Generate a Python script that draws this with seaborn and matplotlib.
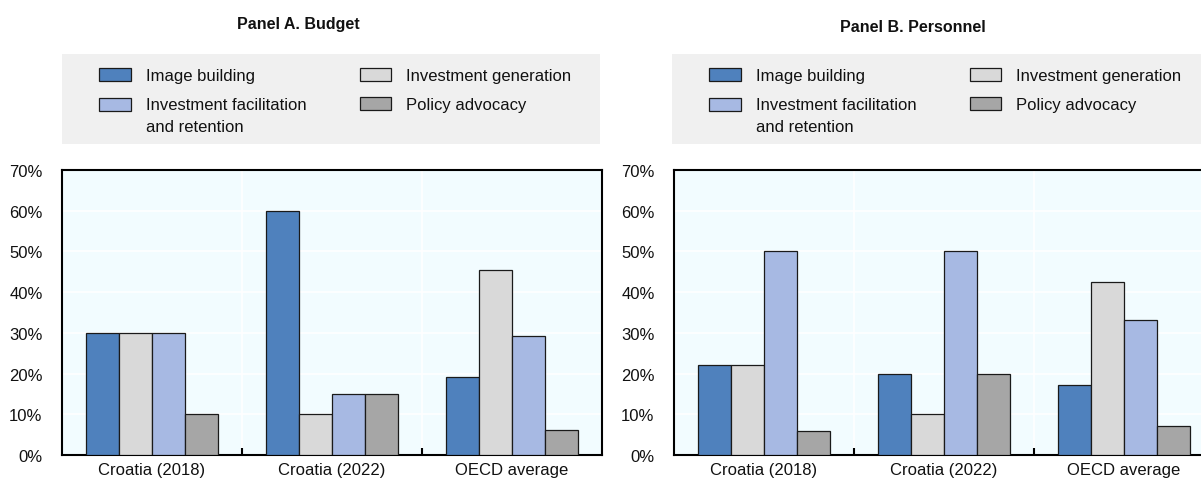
import matplotlib
matplotlib.use("Agg")
import matplotlib.pyplot as plt
import seaborn as sns
import pandas as pd
from matplotlib.patches import Rectangle, Patch
from matplotlib.legend_handler import HandlerPatch
from matplotlib.ticker import FuncFormatter, MultipleLocator, FixedLocator
from matplotlib import font_manager

categories = ["Croatia (2018)", "Croatia (2022)", "OECD average"]
series = ["Image building", "Investment generation",
          "Investment facilitation\nand retention", "Policy advocacy"]
colors = ["#4F81BD", "#D9D9D9", "#A7B9E3", "#A6A6A6"]

budget_image = [30, 60, 19.2]
budget_generation = [30, 10, 45.5]
budget_facilitation = [30, 15, 29.2]
budget_advocacy = [10, 15, 6.2]

personnel_image = [22, 20, 17.3]
personnel_generation = [22, 10, 42.4]
personnel_facilitation = [50, 50, 33.1]
personnel_advocacy = [6, 20, 7.2]

titles = ["Panel A. Budget", "Panel B. Personnel"]

sns.set_theme(style="white")
names = {f.name for f in font_manager.fontManager.ttflist}
fam = "Liberation Sans Narrow" if "Liberation Sans Narrow" in names else "Liberation Sans"
plt.rcParams["font.family"] = [fam, "DejaVu Sans"]

FS = 12
LS = 1.55


def long_df(vals):
    rows = []
    for s, v in zip(series, vals):
        for c, x in zip(categories, v):
            rows.append({"category": c, "series": s, "value": x})
    return pd.DataFrame(rows)


def top_aligned(legend, orig_handle, xdescent, ydescent, width, height, fontsize):
    dy = 0.43 * LS * fontsize
    return Rectangle((-xdescent, -ydescent + dy), width, height)


dfs = [long_df([budget_image, budget_generation, budget_facilitation, budget_advocacy]),
       long_df([personnel_image, personnel_generation, personnel_facilitation, personnel_advocacy])]

W, H = 1201, 481
fig = plt.figure(figsize=(W / 100, H / 100), dpi=100)

lefts = [62, 674]
axw = 540
top_px, bot_px = 171, 456
legend_boxes = [(62, 600), (672, 1215)]
title_x = [298, 913]
title_y = [25, 27]

for i in range(2):
    ax = fig.add_axes([lefts[i] / W, (H - bot_px) / H, axw / W, (bot_px - top_px) / H])
    ax.set_facecolor("#F2FCFF")
    sns.barplot(data=dfs[i], x="category", y="value", hue="series",
                order=categories, hue_order=series, palette=colors,
                width=0.73, edgecolor="#1a1a1a", linewidth=0.9,
                saturation=1, ax=ax, legend=False, zorder=3)
    ax.set_xlim(-0.5, 2.5)
    ax.set_ylim(0, 70)
    ax.yaxis.set_major_locator(MultipleLocator(10))
    ax.yaxis.set_major_formatter(FuncFormatter(lambda v, p: f"{int(round(v))}%"))
    ax.set_xlabel("")
    ax.set_ylabel("")
    ax.xaxis.set_minor_locator(FixedLocator([0.5, 1.5]))
    ax.grid(True, which="major", axis="y", color="white", linewidth=1.2, zorder=0)
    ax.grid(True, which="minor", axis="x", color="white", linewidth=1.2, zorder=0)
    ax.set_axisbelow(True)
    ax.tick_params(axis="y", length=0, pad=14, labelsize=12, labelcolor="#111111")
    ax.tick_params(axis="x", which="major", length=0, pad=5, labelsize=12, labelcolor="#111111")
    ax.tick_params(axis="x", which="minor", direction="in", length=5, width=1.5, color="black", bottom=True)
    for sp in ax.spines.values():
        sp.set_visible(True)
        sp.set_color("black")
        sp.set_linewidth(1.5)

    # legend background box
    x0, x1 = legend_boxes[i]
    fig.patches.append(Rectangle((x0 / W, (H - 145) / H), (x1 - x0) / W, 90 / H,
                                 transform=fig.transFigure, facecolor="#F0F0F0",
                                 edgecolor="none", zorder=0))
    handles = [Patch(facecolor=c, edgecolor="#1a1a1a", linewidth=0.9) for c in colors]
    order = [0, 2, 1, 3]
    leg = fig.legend([handles[k] for k in order], [series[k] for k in order],
                     ncol=2, loc="upper left",
                     bbox_to_anchor=((x0 + 37) / W, (H - 69) / H),
                     frameon=False, fontsize=FS, handlelength=1.9, handleheight=0.85,
                     handletextpad=0.9, columnspacing=3.2, labelspacing=0.82,
                     borderpad=0.0, borderaxespad=0,
                     handler_map={handles[2]: HandlerPatch(patch_func=top_aligned)})
    for t in leg.get_texts():
        t.set_linespacing(LS)
        t.set_color("#111111")
    fig.text(title_x[i] / W, (H - title_y[i]) / H, titles[i], ha="center", va="center",
             fontsize=11.5, fontweight="bold", color="#111111")

fig.savefig("out.png", dpi=100)
